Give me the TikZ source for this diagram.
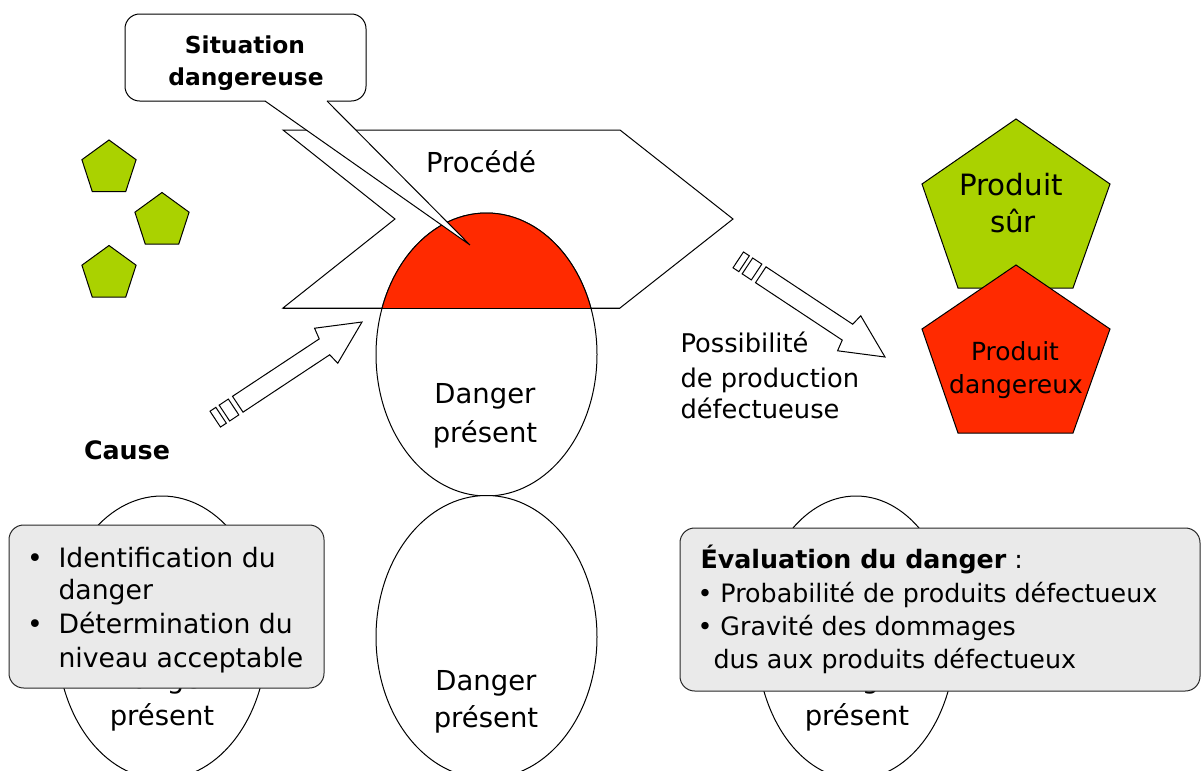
\documentclass[tikz,border=0pt]{standalone}
\usepackage{fontspec}
\setmainfont{DejaVu Sans}
\definecolor{leaf}{RGB}{170,210,0}
\definecolor{alarm}{RGB}{255,42,0}
\definecolor{panel}{RGB}{234,234,234}
\definecolor{rim}{RGB}{40,40,40}

\tikzset{
  % hollow block arrow with a striped tail; tip at the origin, pointing along +x
  blockarrow/.pic={
    \draw[fill=white] (0,0) -- (-43,-21) -- (-45,-9.5) -- (-149,-9.5) -- (-149,9.5) -- (-45,9.5) -- (-43,21) -- cycle;
    \draw[fill=white] (-154,-9.5) rectangle (-165,9.5);
    \draw[fill=white] (-169,-9.5) rectangle (-176,9.5);
  },
  lbl/.style={inner sep=0pt, anchor=base},
  lblw/.style={inner sep=0pt, anchor=base west},
  big/.style={font=\fontsize{20.6}{25}\selectfont},
  mid/.style={font=\fontsize{18.7}{23}\selectfont},
  note/.style={font=\fontsize{19.3}{23}\selectfont},
  boxl/.style={font=\fontsize{20}{24}\selectfont},
  boxr/.style={font=\fontsize{19}{23}\selectfont},
  head/.style={font=\bfseries\fontsize{17.5}{21}\selectfont},
  panelbox/.style={draw=rim, fill=panel, rounded corners=11pt},
  egg/.style={draw=black, fill=white},
}

\begin{document}
\begin{tikzpicture}[x=0.75pt, y=-0.75pt, line width=0.75pt]
\useasboundingbox (0,0) rectangle (1203,771);

% raw material: three small pentagons
\foreach \cx/\cy [count=\i] in {109/168.5, 162/221, 109/274}
  \draw[fill=leaf] (\cx,\cy) +(-90:28.5) -- +(-18:28.5) -- +(54:28.5) -- +(126:28.5) -- +(198:28.5) -- cycle;

% process chevron
\draw[fill=white] (283,130) -- (620,130) -- (733,219) -- (620,308) -- (283,308) -- (395,219) -- cycle;
\node[lbl, big] (proc) at (481,172) {Procédé};

% hazard present inside the process: red cap above the process line
\draw[egg] (486.5,354.5) ellipse [x radius=110.5, y radius=141.5];
\begin{scope}
  \clip (0,0) rectangle (1203,308);
  \draw[fill=alarm] (486.5,354.5) ellipse [x radius=110.5, y radius=141.5];
\end{scope}
\draw (283,308) -- (620,308);
\node[lbl, big] (d1a) at (485,403) {Danger};
\node[lbl, big] (d1b) at (485,442) {présent};

% lower hazard ellipses
\draw[egg] (162,637.5) ellipse [x radius=105, y radius=141.5];
\draw[egg] (486.5,637) ellipse [x radius=110.5, y radius=141.5];
\draw[egg] (856,637.5) ellipse [x radius=99.5, y radius=141.5];
\node[lbl, big] (d2a) at (162,688) {Danger};
\node[lbl, big] (d2b) at (162,725) {présent};
\node[lbl, big] (d3a) at (486,690) {Danger};
\node[lbl, big] (d3b) at (486,727) {présent};
\node[lbl, big] (d4a) at (857,688) {Danger};
\node[lbl, big] (d4b) at (857,725) {présent};

% callout pointing into the red cap
\draw[fill=white, rounded corners=11pt] (125,14) rectangle (366,101);
\fill[white] (265,101) -- (470,245) -- (327,101) -- (326.5,99.8) -- (265.5,99.8) -- cycle;
\draw (265,101) -- (470,245) -- (327,101);
\node[lbl, head] (sit1) at (245,53) {Situation};
\node[lbl, head] (sit2) at (246,85) {dangereuse};

% outputs: safe and dangerous product
\draw[fill=leaf] (1016,119) -- (1110,184) -- (1073,288) -- (958,288) -- (922,184) -- cycle;
\node[lbl, font=\fontsize{22}{26}\selectfont] (ps1) at (1011,195) {Produit};
\node[lbl, font=\fontsize{22}{26}\selectfont] (ps2) at (1013,232) {sûr};
\draw[fill=alarm] (1016,265) -- (1110,329) -- (1073,433) -- (958,433) -- (922,329) -- cycle;
\node[lbl, mid] (pd1) at (1015,360) {Produit};
\node[lbl, mid] (pd2) at (1016,393) {dangereux};

% arrows
\pic[rotate=33.5] at (362,322) {blockarrow};
\pic[rotate=-33.5] at (885,357) {blockarrow};

\node[lblw, note] (pos1) at (680,352) {Possibilité};
\node[lblw, note] (pos2) at (680,387) {de production};
\node[lblw, note] (pos3) at (680,418) {défectueuse};

\node[lbl, font=\bfseries\fontsize{19}{23}\selectfont] (cause) at (127,459) {Cause};

% left panel
\draw[panelbox] (9,525) rectangle (324,688);
\node[lbl, boxl] (b1) at (35,567) {•};
\node[lblw, boxl] (l1) at (58,567) {Identification du};
\node[lblw, boxl] (l2) at (58,599) {danger};
\node[lbl, boxl] (b2) at (35,633) {•};
\node[lblw, boxl] (l3) at (58,633) {Détermination du};
\node[lblw, boxl] (l4) at (58,667) {niveau acceptable};

% right panel
\draw[panelbox] (680,528) rectangle (1200,691);
\node[lblw, boxr] (r1) at (700,568) {\textbf{Évaluation du danger} :};
\node[lblw, boxr] (r2) at (697,602) {• Probabilité de produits défectueux};
\node[lblw, boxr] (r3) at (697,635) {• Gravité des dommages};
\node[lblw, boxr] (r4) at (713,668) {dus aux produits défectueux};
\end{tikzpicture}
\end{document}
